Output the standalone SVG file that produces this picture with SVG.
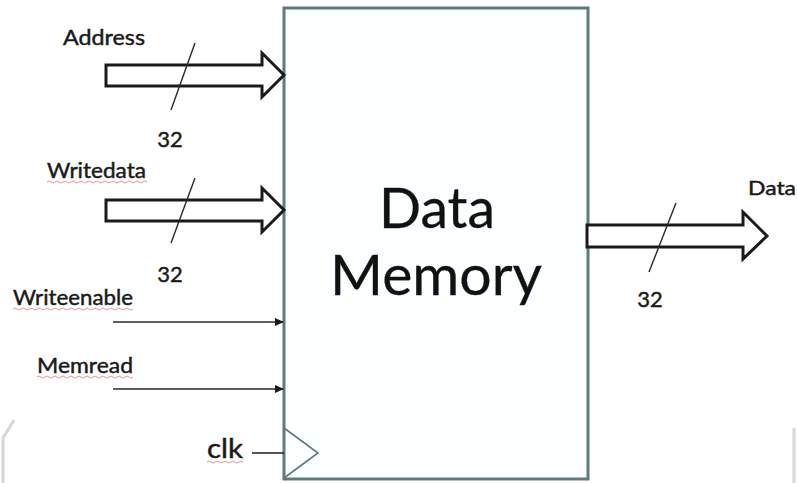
<svg xmlns="http://www.w3.org/2000/svg" width="797" height="483" viewBox="0 0 797 483">
  <defs>
    <marker id="dot-arrow" viewBox="0 0 10 10" refX="9" refY="5" markerWidth="9" markerHeight="9" markerUnits="userSpaceOnUse" orient="auto">
      <path d="M0,0.5 L10,5 L0,9.5 Z" fill="#1a1a1a"/>
    </marker>
    <style>
      .lbl { font-family: Lato, "Open Sans", "Liberation Sans", sans-serif; fill: #1a1a1a; stroke: #1a1a1a; stroke-width: 0.45; }
      .big { stroke-width: 0.3; fill: #111111; }
      .bus { fill: #ffffff; stroke: #1a1a1a; stroke-width: 3; stroke-linejoin: miter; }
      .slash { stroke: #2a2a2a; stroke-width: 1.4; fill: none; }
      .sig { stroke: #2a2a2a; stroke-width: 1.6; fill: none; }
      .squig { stroke: #e07a7a; stroke-width: 1; fill: none; opacity: 0.8; }
      .edge { stroke: #d6d6d6; stroke-width: 3; fill: none; }
    </style>
  </defs>

  <rect x="0" y="0" width="797" height="483" fill="#ffffff"/>

  <!-- faint slide edges -->
  <path class="edge" d="M14,420 L3,438 L3,483"/>
  <path class="edge" d="M794,428 L794,483"/>

  <!-- memory block -->
  <g id="data-memory">
    <rect x="284" y="8" width="304" height="471" fill="#fbffff" stroke="#5f7a7a" stroke-width="3"/>
    <text class="lbl big" x="437" y="228" font-size="56" text-anchor="middle" textLength="116" lengthAdjust="spacingAndGlyphs">Data</text>
    <text class="lbl big" x="436" y="295" font-size="56" text-anchor="middle" textLength="212" lengthAdjust="spacingAndGlyphs">Memory</text>
    <polyline points="284,428 318,453 284,478" fill="none" stroke="#5f7a7a" stroke-width="1.6"/>
  </g>

  <!-- connectors -->
  <g id="connectors">
    <!-- Address bus -->
    <path class="bus" d="M106,65 L262,65 L262,53 L284,75 L262,97 L262,86 L106,86 Z"/>
    <line class="slash" x1="195" y1="43" x2="171" y2="110"/>
    <!-- Writedata bus -->
    <path class="bus" d="M106,200 L262,200 L262,188 L284,210 L262,232 L262,221 L106,221 Z"/>
    <line class="slash" x1="195" y1="178" x2="171" y2="243"/>
    <!-- Data output bus -->
    <path class="bus" d="M587,225 L743,225 L743,212 L767,236 L743,259 L743,247 L587,247 Z"/>
    <line class="slash" x1="676" y1="203" x2="649" y2="272"/>
    <!-- control signals -->
    <line class="sig" x1="113" y1="322" x2="283" y2="322" marker-end="url(#dot-arrow)"/>
    <line class="sig" x1="113" y1="389" x2="283" y2="389" marker-end="url(#dot-arrow)"/>
    <line class="sig" x1="252" y1="453" x2="284" y2="453"/>
  </g>

  <!-- labels -->
  <g id="address-in">
    <text class="lbl" x="63" y="45" font-size="21" textLength="82" lengthAdjust="spacingAndGlyphs">Address</text>
    <text class="lbl" x="170" y="147" font-size="22" text-anchor="middle">32</text>
  </g>
  <g id="writedata-in">
    <text class="lbl" x="47" y="178" font-size="21" textLength="99" lengthAdjust="spacingAndGlyphs">Writedata</text>
    <path class="squig" d="M47,182 q2,-2 4,0 t4,0 t4,0 t4,0 t4,0 t4,0 t4,0 t4,0 t4,0 t4,0 t4,0 t4,0 t4,0 t4,0 t4,0 t4,0 t4,0 t4,0 t4,0 t4,0 t4,0 t4,0 t4,0 t4,0 t4,0"/>
    <text class="lbl" x="170" y="282" font-size="22" text-anchor="middle">32</text>
  </g>
  <g id="writeenable-in">
    <text class="lbl" x="13" y="305" font-size="21" textLength="120" lengthAdjust="spacingAndGlyphs">Writeenable</text>
    <path class="squig" d="M13,309 q2,-2 4,0 t4,0 t4,0 t4,0 t4,0 t4,0 t4,0 t4,0 t4,0 t4,0 t4,0 t4,0 t4,0 t4,0 t4,0 t4,0 t4,0 t4,0 t4,0 t4,0 t4,0 t4,0 t4,0 t4,0 t4,0 t4,0 t4,0 t4,0 t4,0 t4,0"/>
  </g>
  <g id="memread-in">
    <text class="lbl" x="37" y="373" font-size="21" textLength="96" lengthAdjust="spacingAndGlyphs">Memread</text>
    <path class="squig" d="M37,377 q2,-2 4,0 t4,0 t4,0 t4,0 t4,0 t4,0 t4,0 t4,0 t4,0 t4,0 t4,0 t4,0 t4,0 t4,0 t4,0 t4,0 t4,0 t4,0 t4,0 t4,0 t4,0 t4,0 t4,0 t4,0"/>
  </g>
  <g id="clk-in">
    <text class="lbl" x="207" y="458" font-size="27" textLength="36" lengthAdjust="spacingAndGlyphs">clk</text>
    <path class="squig" d="M207,462 q2,-2 4,0 t4,0 t4,0 t4,0 t4,0 t4,0 t4,0 t4,0 t4,0"/>
  </g>
  <g id="data-out">
    <text class="lbl" x="748" y="195" font-size="19" textLength="48" lengthAdjust="spacingAndGlyphs">Data</text>
    <text class="lbl" x="650" y="307" font-size="22" text-anchor="middle">32</text>
  </g>
</svg>
